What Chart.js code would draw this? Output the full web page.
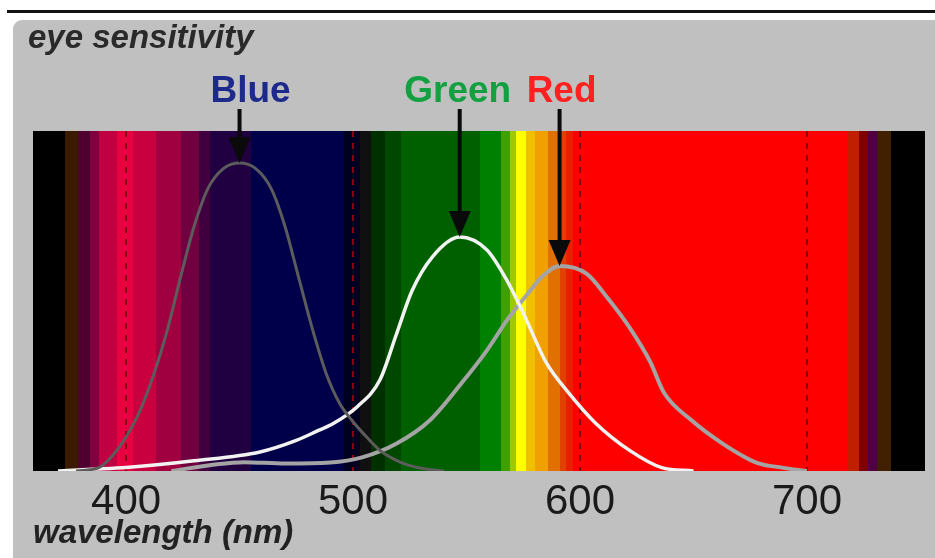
<!DOCTYPE html>
<html>
<head>
<meta charset="utf-8">
<script src="https://cdn.jsdelivr.net/npm/chart.js@4/dist/chart.umd.min.js"></script>
<style>
  body { margin: 0; background: #ffffff; }
  #wrap { width: 935px; height: 558px; }
</style>
</head>
<body>
<div id="wrap"><canvas id="chart"></canvas></div>
<script>
// Cone sensitivity curves (wavelength nm -> relative sensitivity)
const blueNm = [378, 388, 394, 400, 406, 412, 418, 424, 430, 436, 443, 450, 457, 464, 470, 476, 482, 488, 494, 500, 506, 512, 518, 524, 530, 540];
const blueVal = [0, 0.01, 0.045, 0.10, 0.175, 0.28, 0.41, 0.57, 0.72, 0.83, 0.89, 0.906, 0.89, 0.83, 0.72, 0.57, 0.42, 0.29, 0.20, 0.145, 0.10, 0.06, 0.035, 0.018, 0.008, 0];

const greenNm = [370, 385, 400, 430, 459, 475, 485, 490, 502, 512, 519, 526, 535, 547, 559, 567, 575, 585, 595, 607, 622, 636, 650];
const greenVal = [0, 0.005, 0.01, 0.03, 0.056, 0.09, 0.12, 0.135, 0.19, 0.27, 0.40, 0.53, 0.63, 0.688, 0.65, 0.57, 0.465, 0.32, 0.23, 0.14, 0.06, 0.01, 0];

const redNm = [420, 440, 452, 470, 490, 504, 519, 534, 548, 559, 568, 578, 583, 591, 603, 612, 622, 631, 637, 649, 663, 678, 689, 700];
const redVal = [0, 0.02, 0.026, 0.022, 0.025, 0.04, 0.08, 0.15, 0.26, 0.355, 0.445, 0.53, 0.57, 0.603, 0.58, 0.51, 0.42, 0.32, 0.23, 0.15, 0.08, 0.024, 0.01, 0];

// Peak labels with arrows
const peakNames = ['Blue', 'Green', 'Red'];
const peakNm = [450, 547, 591];
const peakVal = [0.906, 0.688, 0.603];

// x axis tick labels
const tickNm = [400, 500, 600, 700];

// Spectrum bands behind the curves: each band starts at spectrumNm[i]
const spectrumNm = [359, 373, 379, 384, 388, 396, 403, 413, 424, 432, 437, 455, 496, 503, 508, 514, 521, 556, 565, 569,
                    572, 576, 580, 586, 591, 594, 597, 718, 723, 727, 731, 737];
const spectrumColor = ['#000000', '#3a1a00', '#500030', '#800040', '#c00040', '#e80040', '#c80040', '#a00040', '#700040', '#400040',
                       '#200040', '#00004a', '#000020', '#101010', '#003000', '#004800', '#006000', '#008000', '#40a000', '#a0c800',
                       '#ffff00', '#f0c000', '#f0a000', '#e07000', '#e04000', '#e82000', '#ff0000', '#c02000', '#800000', '#500040',
                       '#402000', '#000000'];

const toPoints = (xs, ys) => xs.map((x, i) => ({ x: x, y: ys[i] }));

// Panel, spectrum and heading, drawn under the scales
const backdrop = {
    id: 'backdrop',
    beforeDraw(chart) {
        const { ctx, chartArea, scales } = chart;
        ctx.save();
        ctx.fillStyle = '#ffffff';
        ctx.fillRect(0, 0, chart.width, chart.height);
        ctx.fillStyle = '#111111';
        ctx.fillRect(7, 10, chart.width - 7, 3);
        ctx.fillStyle = '#c0c0c0';
        ctx.beginPath();
        ctx.roundRect(13, 20, chart.width - 13, chart.height - 20, [9, 0, 0, 0]);
        ctx.fill();

        const x = scales.x;
        spectrumNm.forEach((nm, i) => {
            const end = i + 1 < spectrumNm.length ? spectrumNm[i + 1] : x.max;
            const x0 = Math.round(x.getPixelForValue(nm));
            const x1 = Math.round(x.getPixelForValue(end));
            ctx.fillStyle = spectrumColor[i];
            ctx.fillRect(x0, chartArea.top, x1 - x0, chartArea.bottom - chartArea.top);
        });

        ctx.fillStyle = '#2a2a2a';
        ctx.font = 'italic bold 33px "Liberation Sans", Arial, sans-serif';
        ctx.textBaseline = 'alphabetic';
        ctx.fillText('eye sensitivity', 28, 48);
        ctx.restore();
    }
};

// Arrows from the names down to the curve peaks
const peakArrows = {
    id: 'peakArrows',
    afterDatasetsDraw(chart) {
        const { ctx, scales } = chart;
        const colors = ['#1c2a8c', '#12a040', '#ff2020'];
        const shift = [11, -2, 2];
        ctx.save();
        peakNames.forEach((name, i) => {
            const px = scales.x.getPixelForValue(peakNm[i]);
            const tip = scales.y.getPixelForValue(peakVal[i]);
            ctx.fillStyle = '#0a0a0a';
            ctx.fillRect(px - 2, 109, 4, tip - 109 - 20);
            ctx.beginPath();
            ctx.moveTo(px - 11, tip - 26);
            ctx.lineTo(px + 11, tip - 26);
            ctx.lineTo(px, tip);
            ctx.closePath();
            ctx.fill();

            ctx.fillStyle = colors[i];
            ctx.font = 'bold 37px "Liberation Sans", Arial, sans-serif';
            ctx.textAlign = 'center';
            ctx.textBaseline = 'alphabetic';
            ctx.fillText(name, px + shift[i], 102);
        });
        ctx.restore();
    }
};

new Chart(document.getElementById('chart'), {
    type: 'line',
    data: {
        datasets: [
            { label: 'Blue', data: toPoints(blueNm, blueVal), borderColor: '#5c5c5c', borderWidth: 3 },
            { label: 'Green', data: toPoints(greenNm, greenVal), borderColor: '#f2f2f2', borderWidth: 3.5 },
            { label: 'Red', data: toPoints(redNm, redVal), borderColor: '#a4a4a4', borderWidth: 4 }
        ]
    },
    options: {
        responsive: true,
        maintainAspectRatio: false,
        animation: false,
        layout: { padding: { left: 33, right: 10, top: 131, bottom: 0 } },
        elements: {
            point: { radius: 0 },
            line: { cubicInterpolationMode: 'monotone', fill: false }
        },
        plugins: { legend: { display: false }, tooltip: { enabled: false } },
        scales: {
            x: {
                type: 'linear',
                min: 359,
                max: 752,
                afterBuildTicks: s => { s.ticks = tickNm.map(v => ({ value: v })); },
                afterFit: s => { s.height = 87; },
                grid: { color: '#8a0010', lineWidth: 2, drawTicks: false },
                border: { display: false, dash: [6, 6] },
                ticks: {
                    color: '#1a1a1a',
                    padding: 6,
                    font: { family: '"Liberation Sans", Arial, sans-serif', size: 42 }
                },
                title: {
                    display: true,
                    text: 'wavelength (nm)',
                    align: 'start',
                    color: '#222222',
                    padding: { top: 0, bottom: 4 },
                    font: { family: '"Liberation Sans", Arial, sans-serif', size: 33, style: 'italic', weight: 'bold' }
                }
            },
            y: { display: false, min: 0, max: 1 }
        }
    },
    plugins: [backdrop, peakArrows]
});
</script>
</body>
</html>
